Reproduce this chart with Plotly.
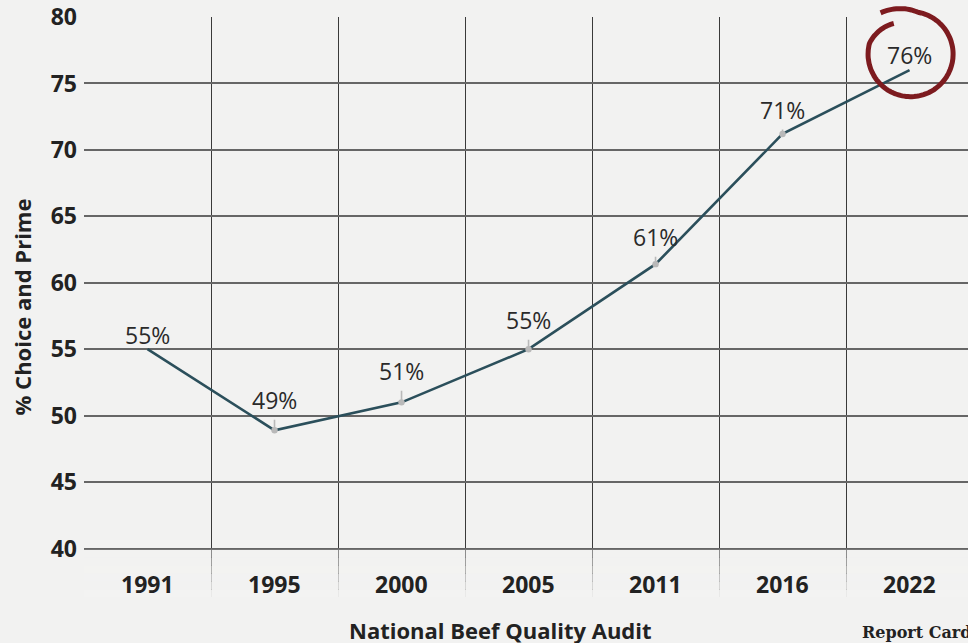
import numpy as np
import plotly.graph_objects as go

years = ["1991", "1995", "2000", "2005", "2011", "2016", "2022"]
values = [55.0, 48.9, 51.0, 55.0, 61.4, 71.2, 76.0]
labels = ["55%", "49%", "51%", "55%", "61%", "71%", "76%"]
pinned = [False, True, True, True, True, True, False]
label_lift = [14, 30, 31, 29, 27, 24, 15]
y_ticks = [40, 45, 50, 55, 60, 65, 70, 75, 80]

BG = "#f2f2f1"
x_idx = list(range(len(years)))
X_RANGE = [-0.5, 6.46]
Y_RANGE = [36.35, 80]

fig = go.Figure()
fig.add_trace(go.Scatter(
    x=x_idx, y=values, mode="lines",
    line=dict(color="#2b4f5b", width=2.6),
    hoverinfo="skip", showlegend=False,
))

label_font = dict(family="Open Sans", size=23, color="#2a2a2a", weight=400)
for xi, v, lab, pin, lift in zip(x_idx, values, labels, pinned, label_lift):
    if pin:
        fig.add_annotation(
            x=xi, y=v, xref="x", yref="y", text=lab, showarrow=True,
            ax=0, ay=-lift, arrowhead=6, arrowsize=1.0, arrowwidth=1.6,
            arrowcolor="#b9b9b9", standoff=0, startstandoff=2, font=label_font,
        )
    else:
        fig.add_annotation(
            x=xi, y=v, xref="x", yref="y", text=lab, showarrow=False,
            yshift=lift, font=label_font,
        )

# fade of the vertical grid lines below 40
n_bands = 6
edges = np.linspace(39.9, Y_RANGE[0], n_bands + 1)
for i in range(n_bands):
    fig.add_shape(
        type="rect", xref="paper", yref="y", x0=0, x1=1,
        y0=edges[i + 1], y1=edges[i], layer="above",
        fillcolor=BG, opacity=0.45 + 0.5 * i / (n_bands - 1), line=dict(width=0),
    )

# year labels along the bottom
for xi, yr in zip(x_idx, years):
    fig.add_annotation(
        x=xi, y=0, xref="x", yref="paper", text=yr, showarrow=False,
        yanchor="bottom", yshift=-5,
        font=dict(family="Open Sans", size=23, color="#222222", weight="bold"),
    )

# hand-drawn red circle around the last value (anchored in paper coords so it is not clipped)
ax_px = (x_idx[-1] - X_RANGE[0]) / (X_RANGE[1] - X_RANGE[0])
ay_px = (values[-1] - Y_RANGE[0]) / (Y_RANGE[1] - Y_RANGE[0])
th = np.radians(np.linspace(118.7, 486, 140))
r = np.interp(np.degrees(th), [118.7, 165, 440, 486], [35, 42.5, 42.5, 51])
px = 1 + r * np.cos(th)
py = 16 + r * np.sin(th)
path = "M " + " L ".join(f"{a:.1f},{b:.1f}" for a, b in zip(px, py))
fig.add_shape(
    type="path", path=path, xsizemode="pixel", ysizemode="pixel",
    xanchor=ax_px, yanchor=ay_px, xref="paper", yref="paper",
    line=dict(color="#7d1b1f", width=5), layer="above",
)

fig.add_annotation(
    text="National Beef Quality Audit", xref="paper", yref="paper",
    x=0.4706, y=-0.057, xanchor="center", yanchor="middle", showarrow=False,
    font=dict(family="Open Sans", size=22, color="#222222", weight="bold"),
)
fig.add_annotation(
    text="Report Card", xref="paper", yref="paper",
    x=0.878, y=-0.062, xanchor="left", yanchor="middle", showarrow=False,
    font=dict(family="DejaVu Serif", size=16, color="#222222", weight="bold"),
)

fig.update_layout(
    width=968, height=643,
    margin=dict(l=84, r=0, t=17, b=46),
    paper_bgcolor=BG, plot_bgcolor=BG,
    showlegend=False,
    xaxis=dict(
        range=X_RANGE, tickmode="array", tickvals=[i - 0.5 for i in range(len(years) + 1)],
        showticklabels=False, showgrid=True, gridcolor="#3a3a3a", gridwidth=1.2,
        zeroline=False, showline=False, ticks="", fixedrange=True,
    ),
    yaxis=dict(
        range=Y_RANGE, tickmode="array", tickvals=y_ticks,
        showgrid=True, gridcolor="#666666", gridwidth=1.6,
        zeroline=False, showline=False, ticks="", ticklabelstandoff=6,
        tickfont=dict(family="Open Sans", size=23, color="#222222", weight="bold"),
        title=dict(text="% Choice and Prime", standoff=12,
                   font=dict(family="Open Sans", size=22, color="#222222", weight="bold")),
        fixedrange=True,
    ),
)

fig.write_html("out.html")
